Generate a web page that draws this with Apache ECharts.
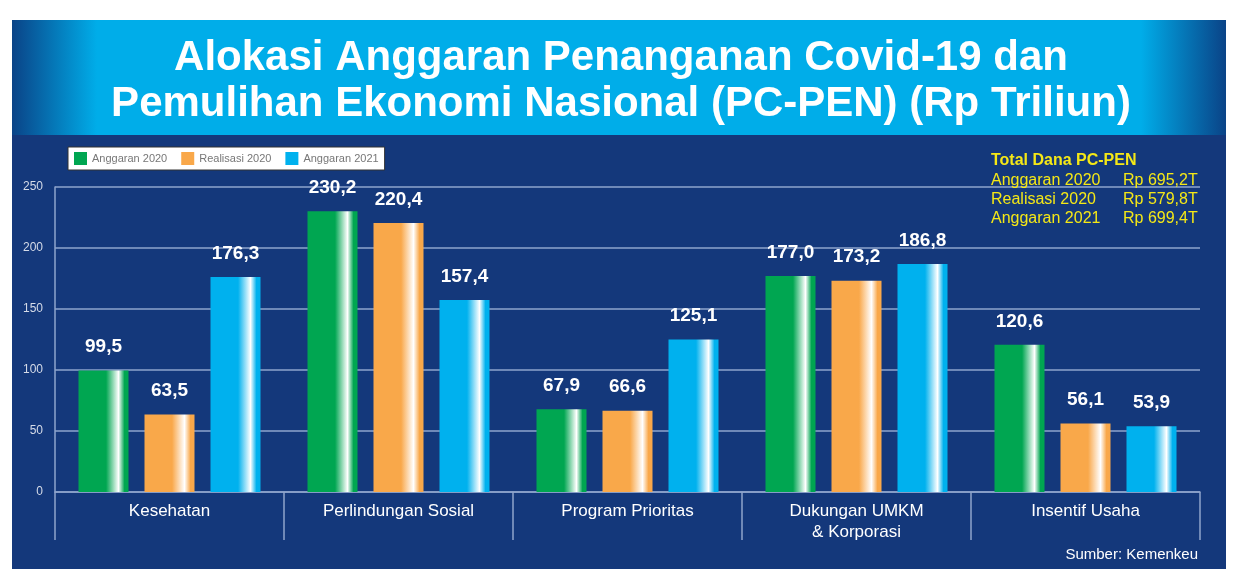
<!DOCTYPE html>
<html>
<head>
<meta charset="utf-8">
<script src="https://cdn.jsdelivr.net/npm/echarts@6/dist/echarts.min.js"></script>
<style>
  html, body { margin: 0; padding: 0; background: #fff; }
  #chart { width: 1246px; height: 569px; }
</style>
</head>
<body>
<div id="chart"></div>
<script>
// data (Rp Triliun)
var categories = ['Kesehatan', 'Perlindungan Sosial', 'Program Prioritas', 'Dukungan UMKM\n& Korporasi', 'Insentif Usaha'];
var seriesNames = ['Anggaran 2020', 'Realisasi 2020', 'Anggaran 2021'];
var anggaran2020 = [99.5, 230.2, 67.9, 177.0, 120.6];
var realisasi2020 = [63.5, 220.4, 66.6, 173.2, 56.1];
var anggaran2021 = [176.3, 157.4, 125.1, 186.8, 53.9];
var totalLabels = ['Anggaran 2020', 'Realisasi 2020', 'Anggaran 2021'];
var totalValues = ['Rp 695,2T', 'Rp 579,8T', 'Rp 699,4T'];

var baseColors = ['#00a651', '#f9a84a', '#00b1ee'];
var panelBlue = '#14387b';
var lineColor = '#8ea4cc';

function barGradient(c) {
	return new echarts.graphic.LinearGradient(0, 0, 1, 0, [
		{offset: 0, color: c},
		{offset: 0.55, color: c},
		{offset: 0.8, color: '#ffffff'},
		{offset: 0.92, color: c},
		{offset: 1, color: c}
	]);
}

function fmt(v) {
	return v.toFixed(1).replace('.', ',');
}

var chart = echarts.init(document.getElementById('chart'));

//kotak total dana kanan atas
var totalsGraphic = [{
	type: 'text', left: 991, top: 153, z: 10,
	style: {text: 'Total Dana PC-PEN', fill: '#f5e816', font: 'bold 16px "Liberation Sans", Arial'}
}];
for (var i = 0; i < totalLabels.length; i++) {
	totalsGraphic.push({
		type: 'text', left: 991, top: 173 + i * 19, z: 10,
		style: {text: totalLabels[i], fill: '#f5e816', font: '16px "Liberation Sans", Arial'}
	});
	totalsGraphic.push({
		type: 'text', left: 1123, top: 173 + i * 19, z: 10,
		style: {text: totalValues[i], fill: '#f5e816', font: '16px "Liberation Sans", Arial'}
	});
}

var seriesData = [anggaran2020, realisasi2020, anggaran2021];
var series = [];
for (var s = 0; s < seriesData.length; s++) {
	series.push({
		name: seriesNames[s],
		type: 'bar',
		barWidth: 50,
		barGap: '32%',
		barCategoryGap: '19%',
		data: seriesData[s],
		itemStyle: {color: barGradient(baseColors[s])},
		label: {
			show: true,
			position: 'top',
			distance: 14,
			color: '#ffffff',
			fontSize: 19,
			fontWeight: 'bold',
			fontFamily: '"Liberation Sans", Arial',
			formatter: function (p) { return fmt(p.value); }
		}
	});
}

var option = {
	backgroundColor: '#ffffff',
	graphic: [
		{type: 'rect', left: 12, top: 20, z: -10, shape: {width: 1214, height: 549}, style: {fill: panelBlue}},
		{type: 'rect', left: 12, top: 20, z: -9, shape: {width: 1214, height: 115},
			style: {fill: new echarts.graphic.LinearGradient(0, 0, 1, 0, [
				{offset: 0, color: '#0a4387'},
				{offset: 0.07, color: '#00ade9'},
				{offset: 0.93, color: '#00ade9'},
				{offset: 1, color: '#0a4387'}
			])}},
		{type: 'text', x: 621, y: 35, z: 10,
			style: {
				text: 'Alokasi Anggaran Penanganan Covid-19 dan\nPemulihan Ekonomi Nasional (PC-PEN) (Rp Triliun)',
				fill: '#ffffff',
				font: 'bold 42px "Liberation Sans", Arial',
				lineHeight: 46,
				align: 'center'
			}}
	].concat(totalsGraphic, [{
		type: 'text', right: 48, top: 547, z: 10,
		style: {text: 'Sumber: Kemenkeu', fill: '#ffffff', font: '15px "Liberation Sans", Arial'}
	}]),
	legend: {
		left: 68,
		top: 147,
		padding: [5, 6],
		itemWidth: 13,
		itemHeight: 13,
		itemGap: 14,
		backgroundColor: '#ffffff',
		borderColor: '#333333',
		borderWidth: 1,
		borderRadius: 0,
		icon: 'rect',
		textStyle: {color: '#777777', fontSize: 11, fontFamily: '"Liberation Sans Narrow", "Liberation Sans", Arial'},
		data: seriesNames.map(function (n, i) {
			return {name: n, itemStyle: {color: baseColors[i]}};
		})
	},
	grid: {left: 55, right: 46, top: 187, bottom: 77},
	xAxis: {
		type: 'category',
		data: categories,
		axisLine: {lineStyle: {color: lineColor, width: 1.5}},
		axisTick: {show: true, length: 48, interval: 0, lineStyle: {color: lineColor, width: 1.5}},
		axisLabel: {color: '#ffffff', fontSize: 17, lineHeight: 21, margin: 9, interval: 0,
			fontFamily: '"Liberation Sans", Arial'}
	},
	yAxis: {
		type: 'value',
		min: 0,
		max: 250,
		interval: 50,
		axisLine: {show: true, lineStyle: {color: lineColor, width: 1.5}},
		axisTick: {show: false},
		splitLine: {lineStyle: {color: lineColor, width: 1.5}},
		axisLabel: {color: '#d5dbe8', fontSize: 12, margin: 12,
			fontFamily: '"Liberation Sans Narrow", "Liberation Sans", Arial'}
	},
	series: series
};
chart.setOption(option);
</script>
</body>
</html>
